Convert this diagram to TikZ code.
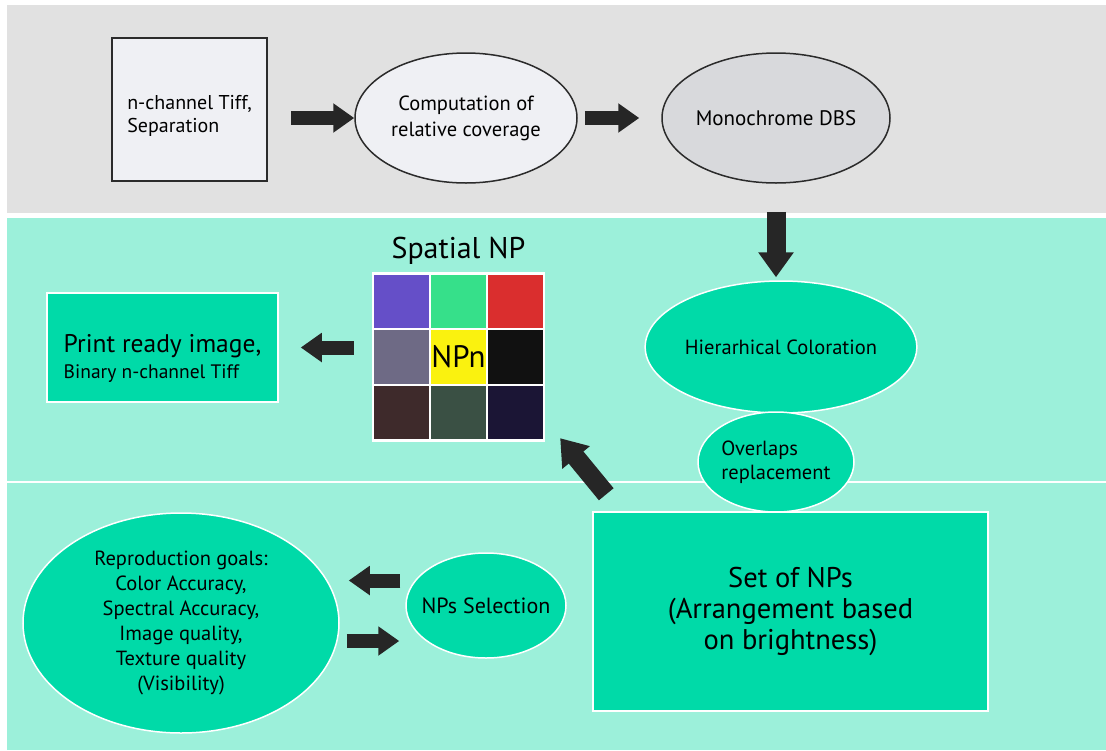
\documentclass[tikz,border=0pt]{standalone}
\usepackage{fontspec}
\setmainfont{PT Sans}
\usetikzlibrary{arrows.meta,shapes.geometric,positioning}
\definecolor{bandgray}{HTML}{E1E1E1}
\definecolor{tealbg}{HTML}{9CF0DA}
\definecolor{tealnode}{HTML}{00DAA8}
\definecolor{srcfill}{HTML}{EFF0F4}
\definecolor{dbsfill}{HTML}{D8D9DC}
\definecolor{edge}{HTML}{2B2B2B}
\definecolor{arrowdark}{HTML}{262626}
\definecolor{npA}{HTML}{654FC8}
\definecolor{npB}{HTML}{36E08A}
\definecolor{npC}{HTML}{DA2E2E}
\definecolor{npD}{HTML}{6E6A85}
\definecolor{npE}{HTML}{FAF20F}
\definecolor{npF}{HTML}{111111}
\definecolor{npG}{HTML}{3E2A2B}
\definecolor{npH}{HTML}{3A5044}
\definecolor{npI}{HTML}{1B1535}
\tikzset{
  src_box/.style={draw=edge,line width=2pt,fill=srcfill,inner sep=0pt,
    minimum width=155,minimum height=143,align=left,font=\fontsize{20}{23}\selectfont},
  ell_light/.style={ellipse,draw=edge,line width=1.5pt,fill=srcfill,inner sep=0pt,
    align=center,font=\fontsize{20.5}{26}\selectfont},
  ell_gray/.style={ell_light,fill=dbsfill,font=\fontsize{21}{25}\selectfont},
  ell_teal/.style={ellipse,draw=white,line width=1.5pt,fill=tealnode,inner sep=0pt,
    align=center,font=\fontsize{20.5}{24}\selectfont},
  box_teal/.style={draw=white,line width=1.5pt,fill=tealnode,inner sep=0pt,align=center},
  cell/.style={minimum width=54.3,minimum height=53.3,inner sep=0pt},
  blk/.style={draw=arrowdark,line width=14pt,-{Triangle[length=21pt,width=28pt]}},
  blk_big/.style={draw=arrowdark,line width=19pt,-{Triangle[length=25pt,width=34pt]}},
}
\begin{document}
\begin{tikzpicture}[x=1pt,y=-1pt]
  \useasboundingbox (0,0) rectangle (1106,750);
  \fill[white] (0,0) rectangle (1106,750);
  % bands
  \fill[bandgray] (7,5) rectangle (1106,213);
  \fill[tealbg] (7,218) rectangle (1106,750);
  \draw[white,line width=2pt] (7,482) -- (1106,482);

  \node[src_box] (tiff) at (189.5,109.5) {\rule{0pt}{26pt}n-channel Tiff,\\Separation};
  \node[ell_light,minimum width=222,minimum height=130] (cover) at (466,118) {Computation of\\relative coverage};
  \node[ell_gray,minimum width=228,minimum height=130] (dbs) at (776,118) {Monochrome DBS};

  \node[ell_teal,minimum width=270,minimum height=132] (hier) at (781,347) {Hierarhical Coloration};
  \node[ell_teal,minimum width=156,minimum height=100,align=left] (overlap) at (776,462) {Overlaps\\replacement};
  \node[box_teal,minimum width=395,minimum height=199,font=\fontsize{28.5}{31}\selectfont] (npset) at (790.5,611.5) {Set of NPs\\(Arrangement based\\on brightness)};

  \node[box_teal,minimum width=231,minimum height=109,align=left] (print) at (162.5,347.5)
    {\fontsize{25.5}{28}\selectfont\rule{0pt}{40pt}Print ready image,\\[5pt]\fontsize{19.5}{22}\selectfont Binary n-channel Tiff};

  % spatial neugebauer primary grid
  \node[fill=white,minimum width=173,minimum height=170,inner sep=0pt] (grid) at (458.5,357) {};
  \node[above=4pt of grid,font=\fontsize{30}{34}\selectfont] (sptitle) {Spatial NP};
  \foreach \col/\row/\clr in {0/0/npA,1/0/npB,2/0/npC,0/1/npD,1/1/npE,2/1/npF,0/2/npG,1/2/npH,2/2/npI}
    \node[cell,fill=\clr] (cell\col\row) at ({401.6+56.9*\col},{301.2+55.8*\row}) {};
  \node[font=\fontsize{31}{34}\selectfont,inner sep=0pt] (npn) at (cell11) {NPn};

  \node[ell_teal,minimum width=316,minimum height=220,font=\fontsize{20.5}{25}\selectfont] (goals) at (181,623)
    {Reproduction goals:\\Color Accuracy,\\Spectral Accuracy,\\Image quality,\\Texture quality\\(Visibility)};
  \node[ell_teal,minimum width=160,minimum height=105,inner xsep=-22pt,font=\fontsize{22}{26}\selectfont] (select) at (486,605.5) {NPs Selection};

  \coordinate (selup) at ([yshift=25pt]select.west);
  \coordinate (goallow) at ([yshift=-18pt]goals.east);

  \draw[blk,shorten <=23pt] (tiff.east |- cover.west) -- (cover.west);
  \draw[blk,shorten <=7pt,shorten >=22pt] (cover.east) -- (dbs.west);
  \draw[blk_big,shorten <=28pt,shorten >=3pt] (dbs.south) -- (dbs.south |- hier.north);
  \draw[blk,shorten <=18pt,shorten >=22pt] (grid.west |- print.east) -- (print.east);
  \draw[blk_big] ([xshift=14pt,yshift=17pt]npset.north west) -- ([xshift=15pt,yshift=4pt]grid.south east);
  \draw[blk,shorten <=5pt,shorten >=9pt] (selup) -- (selup -| goals.east);
  \draw[blk,shorten <=7pt,shorten >=6pt] (goallow) -- (goallow -| select.west);
\end{tikzpicture}
\end{document}
